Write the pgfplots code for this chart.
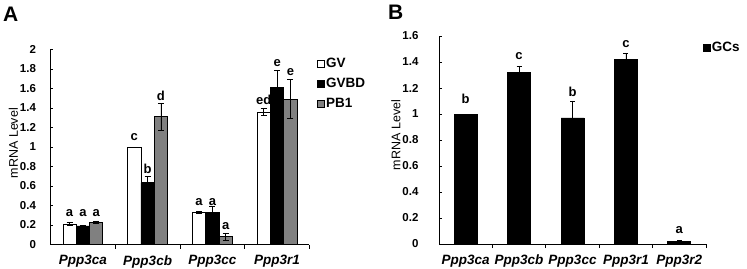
\documentclass[border=0pt]{standalone}
\usepackage{pgfplots}
\usepackage{pgfplotstable}
\pgfplotsset{compat=1.18}
\usepackage{fontspec}
\setmainfont{Liberation Sans}

\pgfplotstableread{
x gv gverr gvbd gvbderr pb pberr
0 0.21 0.012 0.19 0.004 0.225 0.012
1 1.00 0.000 0.635 0.065 1.31 0.14
2 0.33 0.012 0.33 0.06 0.078 0.035
3 1.36 0.04 1.615 0.17 1.49 0.20
}\dataA

\pgfplotstableread{
x gc gcerr
0 1.00 0.00
1 1.32 0.05
2 0.97 0.13
3 1.42 0.05
4 0.02 0.01
}\dataB

\tikzset{lab/.style={anchor=base, font=\bfseries\fontsize{13}{15}\selectfont, inner sep=0pt}}

\pgfplotsset{
  common/.style={
    scale only axis, clip=false,
    axis x line*=bottom, axis y line*=left,
    axis line style={-, line width=0.9pt, black},
    tick align=inside,
    major x tick style={draw=none},
    major y tick style={line width=0.8pt, black},
    minor tick style={line width=0.8pt, black},
    major tick length=3pt, minor tick length=4pt,
    ymin=0,
    /pgf/number format/assume math mode=true,
    yticklabel style={font=\bfseries\fontsize{11.5}{13}\selectfont, anchor=east},
    xticklabel style={font=\bfseries\itshape\fontsize{13.5}{15}\selectfont, anchor=north, yshift=-4.5pt},
    ylabel={mRNA Level},
    ylabel style={font=\fontsize{12.5}{14}\selectfont, anchor=center},
    legend style={draw=none, fill=none, font=\bfseries\fontsize{13.5}{15}\selectfont,
      anchor=north west, inner sep=0pt, row sep=7pt,
      nodes={inner sep=1pt}},
    legend cell align=left,
    error bars/error bar style={line width=0.8pt, black},
  },
  sq/.style={legend image code/.code={\draw[##1, draw=black, line width=0.6pt] (0pt,-3.5pt) rectangle (7pt,3.5pt);}},
}

\begin{document}
\begin{tikzpicture}[x=1pt,y=1pt]
\useasboundingbox (0,0) rectangle (747,268);

\node[anchor=base west, font=\bfseries\fontsize{21}{21}\selectfont, inner sep=0pt] at (3,246.3) {A};
\node[anchor=base west, font=\bfseries\fontsize{21}{21}\selectfont, inner sep=0pt] at (388,248) {B};

\begin{axis}[common,
  at={(50.5pt,23.5pt)}, anchor=south west,
  width=259pt, height=195pt,
  xmin=-0.5, xmax=3.5, ymax=2,
  xtick={0,1,2,3},
  xticklabels={Ppp3ca,Ppp3cb,Ppp3cc,Ppp3r1},
  minor xtick={0.5,1.5,2.5,3.5},
  ytick={0,0.2,0.4,0.6,0.8,1,1.2,1.4,1.6,1.8,2},
  yticklabel style={xshift=-11pt},
  ylabel style={at={(axis description cs:-0.1436,0.52)}},
  ybar=0pt, bar width=13.3pt,
  legend style={at={(1.03,0.96)}},
  error bars/y dir=both, error bars/y explicit,
  error bars/error mark options={rotate=90, mark size=3pt, line width=0.8pt, black},
]
\addplot[sq, fill=white, draw=black, line width=0.8pt] table[x=x, y=gv, y error=gverr] {\dataA};
\addplot[sq, fill=black, draw=black, line width=0.8pt] table[x=x, y=gvbd, y error=gvbderr] {\dataA};
\addplot[sq, fill=black!50, draw=black, line width=0.8pt] table[x=x, y=pb, y error=pberr] {\dataA};
\legend{GV,GVBD,PB1}
\node[lab] at (axis cs:-0.2054,0.29) {a};
\node[lab] at (axis cs:0,0.29) {a};
\node[lab] at (axis cs:0.2054,0.29) {a};
\node[lab] at (axis cs:0.7946,1.068) {c};
\node[lab] at (axis cs:1,0.729) {b};
\node[lab] at (axis cs:1.2054,1.475) {d};
\node[lab] at (axis cs:1.7946,0.405) {a};
\node[lab] at (axis cs:2,0.405) {a};
\node[lab] at (axis cs:2.2054,0.155) {a};
\node[lab] at (axis cs:2.7946,1.44) {ed};
\node[lab] at (axis cs:3,1.83) {e};
\node[lab] at (axis cs:3.2054,1.73) {e};
\end{axis}

\begin{axis}[common,
  at={(439pt,24pt)}, anchor=south west,
  width=267pt, height=208pt,
  xmin=-0.5, xmax=4.5, ymax=1.6,
  xtick={0,1,2,3,4},
  xticklabels={Ppp3ca,Ppp3cb,Ppp3cc,Ppp3r1,Ppp3r2},
  minor xtick={0.5,1.5,2.5,3.5,4.5},
  ytick={0,0.2,0.4,0.6,0.8,1,1.2,1.4,1.6},
  yticklabel style={xshift=-17pt},
  ylabel style={at={(axis description cs:-0.161,0.524)}},
  ybar, bar width=23pt,
  legend style={at={(0.989,0.975)}},
  error bars/y dir=plus, error bars/y explicit,
  error bars/error mark options={rotate=90, mark size=2.5pt, line width=0.8pt, black},
]
\addplot[sq, fill=black, draw=black, line width=0.8pt] table[x=x, y=gc, y error=gcerr] {\dataB};
\legend{GCs}
\node[lab] at (axis cs:0,1.077) {b};
\node[lab] at (axis cs:1,1.42) {c};
\node[lab] at (axis cs:2,1.133) {b};
\node[lab] at (axis cs:3,1.513) {c};
\node[lab] at (axis cs:4,0.082) {a};
\end{axis}
\end{tikzpicture}
\end{document}
